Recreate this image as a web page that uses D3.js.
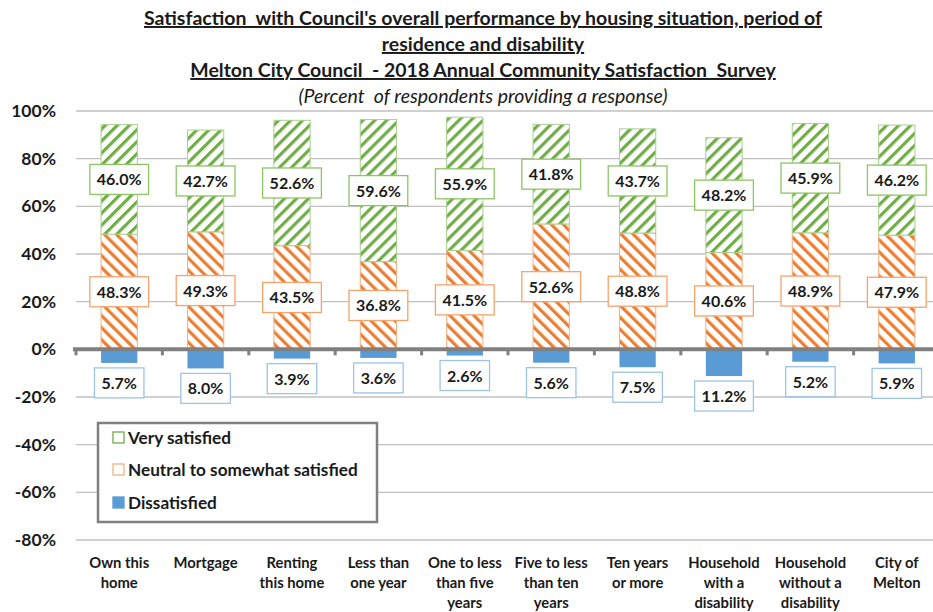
<!DOCTYPE html>
<html>
<head>
<meta charset="utf-8">
<script src="https://cdn.jsdelivr.net/npm/d3@7"></script>
<style>
  body { margin: 0; background: #fff; }
  text { font-family: Lato, "Open Sans", sans-serif; fill: #1a1a1a; }
  .title { font-weight: bold; font-size: 19.5px; text-decoration: underline; }
  .subtitle { font-style: italic; font-size: 19.5px; }
  .ytick { font-weight: bold; font-size: 17.5px; }
  .xlab { font-weight: bold; font-size: 14.8px; }
  .val { font-weight: bold; font-size: 16px; }
  .leg { font-weight: bold; font-size: 17.2px; }
</style>
</head>
<body>
<script>
(function(){

    //chart data
    var categories = ["Own this home", "Mortgage", "Renting this home", "Less than one year",
        "One to less than five years", "Five to less than ten years", "Ten years or more",
        "Household with a disability", "Household without a disability", "City of Melton"];
    var catLines = [["Own this", "home"], ["Mortgage"], ["Renting", "this home"], ["Less than", "one year"],
        ["One to less", "than five", "years"], ["Five to less", "than ten", "years"], ["Ten years", "or more"],
        ["Household", "with a", "disability"], ["Household", "without a", "disability"], ["City of", "Melton"]];
    var verySatisfied = [46.0, 42.7, 52.6, 59.6, 55.9, 41.8, 43.7, 48.2, 45.9, 46.2];
    var neutral = [48.3, 49.3, 43.5, 36.8, 41.5, 52.6, 48.8, 40.6, 48.9, 47.9];
    var dissatisfied = [5.7, 8.0, 3.9, 3.6, 2.6, 5.6, 7.5, 11.2, 5.2, 5.9];
    var yTicks = [100, 80, 60, 40, 20, 0, -20, -40, -60, -80];
    var legendNames = ["Very satisfied", "Neutral to somewhat satisfied", "Dissatisfied"];
    var titleLines = ["Satisfaction  with Council's overall performance by housing situation, period of",
        "residence and disability",
        "Melton City Council  - 2018 Annual Community Satisfaction  Survey"];
    var subtitle = "(Percent  of respondents providing a response)";

    var width = 933, height = 612;

    var svg = d3.select("body")
        .append("svg")
        .attr("width", width)
        .attr("height", height);

    //hatch patterns
    var defs = svg.append("defs");
    function hatch(id, color, angle){
        var p = defs.append("pattern")
            .attr("id", id)
            .attr("patternUnits", "userSpaceOnUse")
            .attr("width", 8.5)
            .attr("height", 8.5)
            .attr("patternTransform", "rotate(" + angle + ")");
        p.append("rect").attr("width", 8.5).attr("height", 8.5).attr("fill", "#fff");
        p.append("rect").attr("width", 3.2).attr("height", 8.5).attr("fill", color);
    }
    hatch("hatchGreen", "#70AD47", 45);
    hatch("hatchOrange", "#ED7D31", -45);

    var x = d3.scaleBand()
        .domain(categories)
        .range([76, 940])
        .paddingInner(0.58)
        .paddingOuter(0.29);

    var y = d3.scaleLinear()
        .domain([-80, 100])
        .range([540, 111]);

    //titles
    var titleY = [25, 51, 77];
    titleLines.forEach(function(t, i){
        svg.append("text")
            .attr("class", "title")
            .attr("x", 483)
            .attr("y", titleY[i])
            .attr("text-anchor", "middle")
            .attr("xml:space", "preserve")
            .text(t);
    });
    svg.append("text")
        .attr("class", "subtitle")
        .attr("x", 483)
        .attr("y", 103)
        .attr("text-anchor", "middle")
        .attr("xml:space", "preserve")
        .text(subtitle);

    //gridlines
    svg.selectAll(".grid")
        .data(yTicks.filter(function(d){ return d !== 0; }))
        .enter()
        .append("line")
        .attr("x1", 76)
        .attr("x2", width)
        .attr("y1", function(d){ return y(d); })
        .attr("y2", function(d){ return y(d); })
        .attr("stroke", "#c0c0c0")
        .attr("stroke-width", 1.3);

    //y tick labels
    svg.selectAll(".ytick")
        .data(yTicks)
        .enter()
        .append("text")
        .attr("class", "ytick")
        .attr("x", 56)
        .attr("y", function(d){ return y(d) + 6; })
        .attr("text-anchor", "end")
        .text(function(d){ return d + "%"; });

    var bw = x.bandwidth();

    //neutral bars
    svg.selectAll(".neutral")
        .data(categories)
        .enter()
        .append("rect")
        .attr("x", function(d){ return x(d); })
        .attr("y", function(d, i){ return y(neutral[i]); })
        .attr("width", bw)
        .attr("height", function(d, i){ return y(0) - y(neutral[i]); })
        .attr("fill", "url(#hatchOrange)")
        .attr("stroke", "#F4B183")
        .attr("stroke-width", 1);

    //very satisfied bars
    svg.selectAll(".very")
        .data(categories)
        .enter()
        .append("rect")
        .attr("x", function(d){ return x(d); })
        .attr("y", function(d, i){ return y(neutral[i] + verySatisfied[i]); })
        .attr("width", bw)
        .attr("height", function(d, i){ return y(neutral[i]) - y(neutral[i] + verySatisfied[i]); })
        .attr("fill", "url(#hatchGreen)")
        .attr("stroke", "#A9D18E")
        .attr("stroke-width", 1);

    //dissatisfied bars
    svg.selectAll(".dis")
        .data(categories)
        .enter()
        .append("rect")
        .attr("x", function(d){ return x(d); })
        .attr("y", y(0))
        .attr("width", bw)
        .attr("height", function(d, i){ return y(-dissatisfied[i]) - y(0); })
        .attr("fill", "#5B9BD5");

    //zero axis line with ticks
    svg.append("line")
        .attr("x1", 73)
        .attr("x2", width)
        .attr("y1", y(0))
        .attr("y2", y(0))
        .attr("stroke", "#808080")
        .attr("stroke-width", 4);
    var step = x.step();
    svg.selectAll(".xtick")
        .data(d3.range(categories.length + 1))
        .enter()
        .append("line")
        .attr("x1", function(i){ return 76 + i * step; })
        .attr("x2", function(i){ return 76 + i * step; })
        .attr("y1", y(0))
        .attr("y2", y(0) + 6)
        .attr("stroke", "#808080")
        .attr("stroke-width", 3);

    //value label boxes
    function labelBox(cx, cy, txt, border){
        var g = svg.append("g");
        var r = g.append("rect");
        var t = g.append("text")
            .attr("class", "val")
            .attr("x", cx)
            .attr("y", cy + 6)
            .attr("text-anchor", "middle")
            .text(txt);
        var w = t.node().getComputedTextLength() + 14;
        r.attr("x", cx - w / 2)
            .attr("y", cy - 15)
            .attr("width", w)
            .attr("height", 30)
            .attr("fill", "#fff")
            .attr("stroke", border)
            .attr("stroke-width", 1.3);
    }
    categories.forEach(function(c, i){
        var cx = x(c) + bw / 2;
        labelBox(cx, y(neutral[i] + verySatisfied[i] / 2), verySatisfied[i].toFixed(1) + "%", "#8CC563");
        labelBox(cx, y(neutral[i] / 2), neutral[i].toFixed(1) + "%", "#F5A36B");
        labelBox(cx, y(-dissatisfied[i]) + 20, dissatisfied[i].toFixed(1) + "%", "#9DC3E6");
    });

    //x category labels
    categories.forEach(function(c, i){
        var t = svg.append("text")
            .attr("class", "xlab")
            .attr("text-anchor", "middle")
            .attr("x", x(c) + bw / 2)
            .attr("y", 568);
        catLines[i].forEach(function(l, j){
            t.append("tspan")
                .attr("x", x(c) + bw / 2)
                .attr("dy", j === 0 ? 0 : 20)
                .text(l);
        });
    });

    //legend
    var legend = svg.append("g");
    legend.append("rect")
        .attr("x", 98)
        .attr("y", 423)
        .attr("width", 279)
        .attr("height", 99)
        .attr("fill", "#fff")
        .attr("stroke", "#808080")
        .attr("stroke-width", 2.5);
    var legY = [438, 470, 503];
    var legStroke = ["#70AD47", "#F4B183", "#5B9BD5"];
    var legFill = ["#fff", "#fff", "#5B9BD5"];
    legendNames.forEach(function(n, i){
        legend.append("rect")
            .attr("x", 113)
            .attr("y", legY[i] - 6)
            .attr("width", 11)
            .attr("height", 11)
            .attr("fill", legFill[i])
            .attr("stroke", legStroke[i])
            .attr("stroke-width", 1.3);
        legend.append("text")
            .attr("class", "leg")
            .attr("x", 128)
            .attr("y", legY[i] + 6)
            .text(n);
    });

})();
</script>
</body>
</html>
